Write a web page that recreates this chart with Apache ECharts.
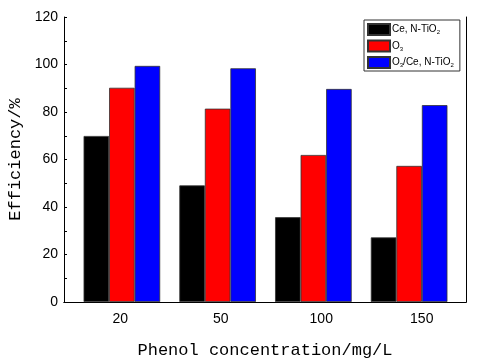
<!DOCTYPE html>
<html>
<head>
<meta charset="utf-8">
<script src="https://cdn.jsdelivr.net/npm/echarts@6/dist/echarts.min.js"></script>
<style>
  html, body { margin: 0; padding: 0; background: #fff; }
  #chart { width: 480px; height: 361px; }
</style>
</head>
<body>
<div id="chart"></div>
<script>
const categories = ["20", "50", "100", "150"];
const ceNTiO2 = [69.9, 49.1, 35.7, 27.2];
const ozone = [90.2, 81.4, 61.9, 57.3];
const ozoneCeNTiO2 = [99.4, 98.4, 89.7, 82.9];
const seriesNames = ["Ce, N-TiO2", "O3", "O3/Ce, N-TiO2"];
const seriesColors = ["#000000", "#ff0000", "#0000ff"];

const chart = echarts.init(document.getElementById("chart"));

const legendRich = {
  t: { fontFamily: "Liberation Sans", fontSize: 10, color: "#000" },
  s: { fontFamily: "Liberation Sans", fontSize: 6, color: "#000", verticalAlign: "bottom", padding: [6, 0, 0, 0] },
};

function legendLabel(name) {
  if (name === "Ce, N-TiO2") return "{t|Ce, N-TiO}{s|2}";
  if (name === "O3") return "{t|O}{s|3}";
  return "{t|O}{s|3}{t|/Ce, N-TiO}{s|2}";
}

const axisLine = { show: true, lineStyle: { color: "#000", width: 1 } };

chart.setOption({
  backgroundColor: "#fff",
  animation: false,
  grid: [
    { left: 64, right: 14, top: 17, bottom: 59, show: false, outerBoundsMode: "none", containLabel: false },
    { left: 74, right: 23, top: 17, bottom: 59, show: false, outerBoundsMode: "none", containLabel: false },
  ],
  legend: {
    data: seriesNames,
    orient: "vertical",
    left: 364,
    top: 20,
    itemWidth: 22,
    itemHeight: 11,
    itemGap: 3.5,
    padding: [3, 6, 2, 3],
    borderColor: "#333",
    borderWidth: 1,
    icon: "rect",
    formatter: legendLabel,
    textStyle: { rich: legendRich, padding: [0, 0, 0, -3] },
  },
  xAxis: [
    {
      gridIndex: 0,
      type: "category",
      data: categories,
      axisLine: axisLine,
      axisTick: { show: false },
      axisLabel: {
        fontFamily: "Liberation Sans",
        fontSize: 14,
        color: "#000",
        margin: 10,
        padding: [0, 0, 0, 12],
      },
      name: "Phenol concentration/mg/L",
      nameLocation: "middle",
      nameGap: 40,
      nameTextStyle: { fontFamily: "Liberation Mono", fontSize: 17, color: "#000" },
    },
    {
      gridIndex: 0,
      type: "category",
      data: categories,
      position: "top",
      axisLine: axisLine,
      axisTick: { show: false },
      axisLabel: { show: false },
    },
    {
      gridIndex: 1,
      type: "category",
      data: categories,
      axisLine: { show: false },
      axisTick: { show: false },
      axisLabel: { show: false },
    },
  ],
  yAxis: [
    {
      gridIndex: 0,
      type: "value",
      min: 0,
      max: 120,
      interval: 20,
      axisLine: axisLine,
      axisTick: { show: true, inside: true, length: 3, lineStyle: { color: "#000" } },
      minorTick: { show: true, splitNumber: 2, length: 3, lineStyle: { color: "#000" } },
      splitLine: { show: false },
      axisLabel: { fontFamily: "Liberation Sans", fontSize: 14, color: "#000", margin: 6 },
      name: "Efficiency/%",
      nameLocation: "middle",
      nameGap: 37,
      nameTextStyle: { fontFamily: "Liberation Mono", fontSize: 17, color: "#000" },
    },
    {
      gridIndex: 0,
      type: "value",
      position: "right",
      min: 0,
      max: 120,
      interval: 20,
      axisLine: axisLine,
      axisTick: { show: false },
      axisLabel: { show: false },
      splitLine: { show: false },
    },
    {
      gridIndex: 1,
      type: "value",
      min: 0,
      max: 120,
      show: false,
    },
  ],
  series: [ceNTiO2, ozone, ozoneCeNTiO2].map((values, i) => ({
    name: seriesNames[i],
    type: "bar",
    xAxisIndex: 2,
    yAxisIndex: 2,
    data: values,
    barGap: "0%",
    barCategoryGap: "20%",
    itemStyle: { color: seriesColors[i], borderColor: "#333", borderWidth: 0.8 },
  })),
});
</script>
</body>
</html>
